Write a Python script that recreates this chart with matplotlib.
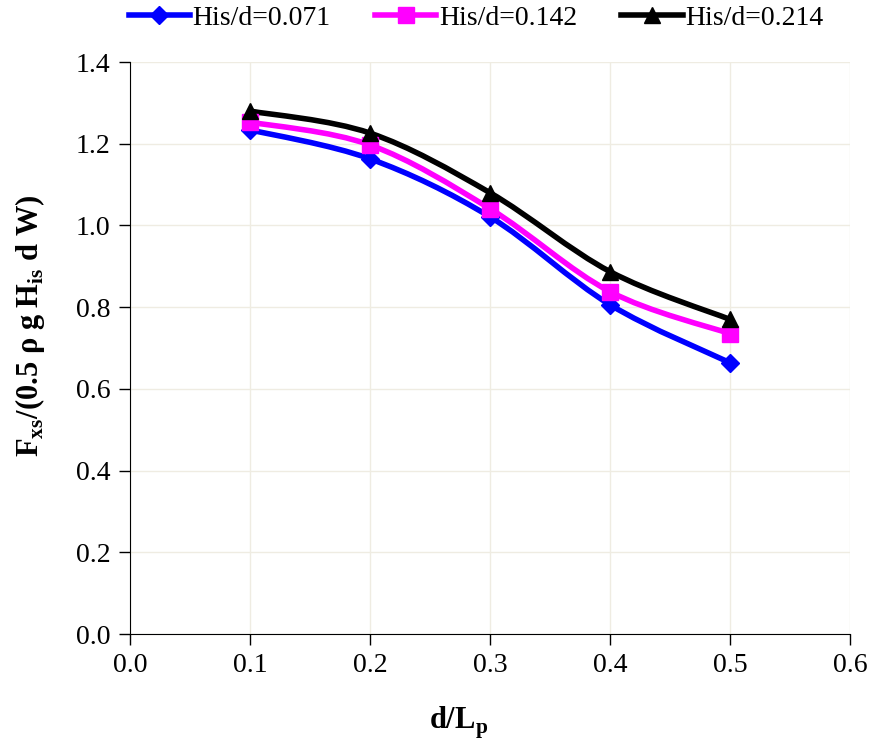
import numpy as np
import matplotlib.pyplot as plt
from matplotlib.path import Path
from matplotlib.patches import PathPatch

plt.rcParams['font.family'] = ['Liberation Serif', 'DejaVu Serif']
plt.rcParams['mathtext.fontset'] = 'custom'
plt.rcParams['mathtext.rm'] = 'Liberation Serif'
plt.rcParams['mathtext.bf'] = 'Liberation Serif:bold'

# values
d_Lp = [0.1, 0.2, 0.3, 0.4, 0.5]
f_071 = [1.234, 1.163, 1.021, 0.806, 0.664]
f_142 = [1.253, 1.197, 1.041, 0.838, 0.735]
f_214 = [1.280, 1.226, 1.080, 0.887, 0.770]
labels = ["His/d=0.071", "His/d=0.142", "His/d=0.214"]
colors = ["#0000ff", "#ff00ff", "#000000"]
markers = ["D", "s", "^"]
msizes = [9, 11, 11]


def smooth_path(x, y):
    # Excel-style smoothed line: cubic bezier through every point
    x = np.asarray(x, float)
    y = np.asarray(y, float)
    n = len(x)
    verts = [(x[0], y[0])]
    codes = [Path.MOVETO]
    for i in range(n - 1):
        x0, y0 = (x[i - 1], y[i - 1]) if i > 0 else (x[i], y[i])
        x3, y3 = (x[i + 2], y[i + 2]) if i + 2 < n else (x[i + 1], y[i + 1])
        c1 = (x[i] + (x[i + 1] - x0) / 6, y[i] + (y[i + 1] - y0) / 6)
        c2 = (x[i + 1] - (x3 - x[i]) / 6, y[i + 1] - (y3 - y[i]) / 6)
        verts += [c1, c2, (x[i + 1], y[i + 1])]
        codes += [Path.CURVE4] * 3
    return Path(verts, codes)


fig = plt.figure(figsize=(8.71, 7.4), dpi=100)
ax = fig.add_axes([0.1493, 0.1432, 0.8266, 0.7730])

handles = []
for ys, lab, c, m, ms in zip([f_071, f_142, f_214], labels, colors, markers, msizes):
    ax.add_patch(PathPatch(smooth_path(d_Lp, ys), facecolor="none",
                           edgecolor=c, lw=4, zorder=3))
    ax.plot(d_Lp, ys, ls="none", marker=m, color=c, ms=ms, zorder=4)
    # legend proxy
    h, = ax.plot([], [], color=c, lw=4, marker=m, ms=ms, label=lab)
    handles.append(h)

ax.set_xlim(0, 0.6)
ax.set_ylim(0, 1.4)
ax.set_xticks(np.arange(0, 0.61, 0.1))
ax.set_yticks(np.arange(0, 1.41, 0.2))
ax.xaxis.set_major_formatter(plt.FormatStrFormatter("%.1f"))
ax.yaxis.set_major_formatter(plt.FormatStrFormatter("%.1f"))
ax.tick_params(direction="out", length=8, width=1, labelsize=20, pad=6)
ax.grid(True, color="#efece2", lw=1)
ax.set_axisbelow(True)
for s in ["top", "right"]:
    ax.spines[s].set_visible(False)

fig.text(459 / 871, 1 - 723 / 740, r"d/L$_\mathbf{p}$", fontsize=22,
         fontweight="bold", ha="center", va="center")
fig.text(30 / 871, 1 - 326 / 740,
         r"F$_\mathbf{xs}$/(0.5 ρ g H$_\mathbf{is}$ d W)",
         fontsize=22, fontweight="bold", rotation=90, ha="center", va="center")

fig.legend(handles=handles, loc="upper center", bbox_to_anchor=(476 / 871, 1.008),
           ncol=3, frameon=False, fontsize=20, handlelength=2.2,
           handletextpad=0.1, columnspacing=1.6, borderaxespad=0)

fig.savefig("out.png", dpi=100)
